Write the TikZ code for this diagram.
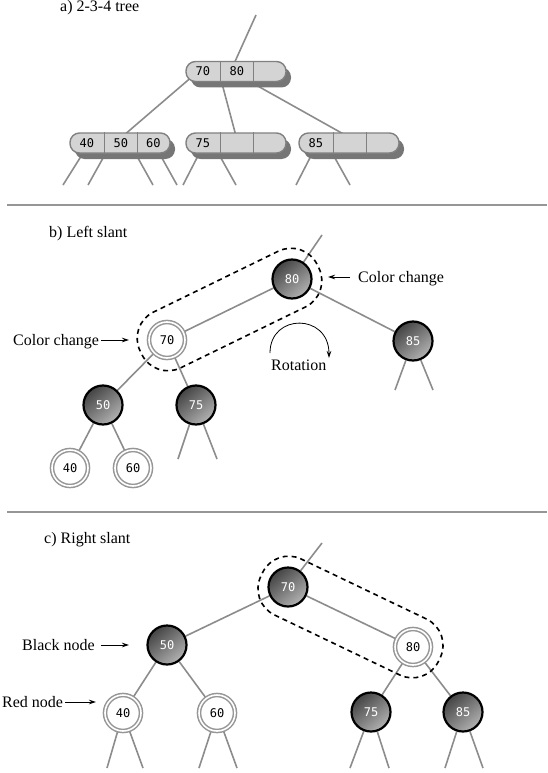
\documentclass[tikz,border=0pt]{standalone}
\usepackage{fontspec}
\setmainfont{Liberation Serif}
\newfontfamily\digitfont{DejaVu Sans Mono}
\usetikzlibrary{backgrounds,shadows,arrows.meta,calc}
\definecolor{edgegray}{RGB}{140,140,140}
\definecolor{boxfill}{RGB}{212,212,212}
\definecolor{boxborder}{RGB}{128,128,128}
\definecolor{shadowgray}{RGB}{118,118,118}
\definecolor{ringgray}{RGB}{150,150,150}
\definecolor{sepgray}{RGB}{150,150,150}
\definecolor{darkfill}{RGB}{68,68,68}
\definecolor{lightfill}{RGB}{178,178,178}
\begin{document}
\begin{tikzpicture}[x=1pt,y=-1pt,
  font=\fontsize{16}{18}\selectfont,
  treeline/.style={draw=edgegray, line width=1.6pt},
  sepline/.style={draw=sepgray, line width=2pt},
  keybox/.style={draw=boxborder, line width=1.4pt, fill=boxfill, rounded corners=9.5pt,
    minimum width=100pt, minimum height=20pt, inner sep=0pt,
    drop shadow={shadow xshift=5pt, shadow yshift=-6pt, fill=shadowgray, opacity=1}},
  boxdiv/.style={draw=boxborder, line width=1.4pt},
  digits/.style={font=\digitfont\fontsize{12}{12}\selectfont, inner sep=0pt},
  blacknode/.style={circle, draw=black, line width=2.2pt, minimum size=39pt, inner sep=0pt,
    top color=darkfill, bottom color=lightfill, shading angle=40, text=white, digits},
  rednode/.style={circle, draw=ringgray, line width=1.5pt, double=white, double distance=1.6pt,
    fill=white, minimum size=36pt, inner sep=0pt, text=black, digits},
  capsule/.style={draw=black, line width=1.6pt, dash pattern=on 5pt off 4pt,
    rounded corners=29pt, minimum width=197pt, minimum height=62pt, inner sep=0pt},
  label/.style={inner sep=0pt, anchor=base west},
  pointer/.style={draw=black, line width=0.8pt, -{Stealth[length=7pt,width=4.5pt]}}
]
\useasboundingbox (0,0) rectangle (547,773);

% ---------------- a) 2-3-4 tree ----------------
\node[label] (atitle) at (60,12) {a) 2-3-4 tree};

\node[keybox] (aroot) at (236,71.5) {};
\node[keybox] (aleft) at (120,143) {};
\node[keybox] (amid) at (236,143) {};
\node[keybox] (aright) at (349,143) {};

\foreach \b in {aroot,aleft,amid,aright}{
  \draw[boxdiv] ($(\b.north west)+(35,0)$) -- ($(\b.south west)+(35,0)$);
  \draw[boxdiv] ($(\b.north west)+(68,0)$) -- ($(\b.south west)+(68,0)$);
}
\node[digits] (ar70) at ($(aroot.west)+(17.5,0)$) {70};
\node[digits] (ar80) at ($(aroot.west)+(51.5,0)$) {80};
\node[digits] (al40) at ($(aleft.west)+(17.5,0)$) {40};
\node[digits] (al50) at ($(aleft.west)+(51.5,0)$) {50};
\node[digits] (al60) at ($(aleft.west)+(84,0)$) {60};
\node[digits] (am75) at ($(amid.west)+(17.5,0)$) {75};
\node[digits] (ar85) at ($(aright.west)+(17.5,0)$) {85};

\coordinate (aupin) at (233,66);   \coordinate (aup) at (256,15);
\coordinate (arL) at (194,75);     \coordinate (alT) at (123,136);
\coordinate (arM) at (220,76);     \coordinate (amT) at (236,136);
\coordinate (arR) at (247,80);     \coordinate (aRT) at (347,136);
\coordinate (al1i) at (85,150)    ; \coordinate (al1) at (63,185);
\coordinate (al2i) at (107.5,150) ; \coordinate (al2) at (88,185);
\coordinate (al3i) at (133.5,150) ; \coordinate (al3) at (153,185);
\coordinate (al4i) at (157.5,150) ; \coordinate (al4) at (177,185);
\coordinate (am1i) at (201,150)   ; \coordinate (am1) at (183,185);
\coordinate (am2i) at (216.5,150) ; \coordinate (am2) at (236,185);
\coordinate (aR1i) at (314,150)   ; \coordinate (aR1) at (296,185);
\coordinate (aR2i) at (330.5,150) ; \coordinate (aR2) at (350,185);
\begin{scope}[on background layer]
  \draw[treeline] (aupin) -- (aup);
  \draw[treeline] (arL) -- (alT);
  \draw[treeline] (arM) -- (amT);
  \draw[treeline] (arR) -- (aRT);
  \draw[treeline] (al1i) -- (al1);
  \draw[treeline] (al2i) -- (al2);
  \draw[treeline] (al3i) -- (al3);
  \draw[treeline] (al4i) -- (al4);
  \draw[treeline] (am1i) -- (am1);
  \draw[treeline] (am2i) -- (am2);
  \draw[treeline] (aR1i) -- (aR1);
  \draw[treeline] (aR2i) -- (aR2);
\end{scope}

\coordinate (sep1a) at (7,205); \coordinate (sep1b) at (547,205);
\draw[sepline] (sep1a) -- (sep1b);

% ---------------- b) Left slant ----------------
\node[label] (btitle) at (49,237) {b) Left slant};

\node[blacknode] (b80) at (292,279) {80};
\node[rednode]   (b70) at (167,340) {70};
\node[blacknode] (b85) at (413,341) {85};
\node[blacknode] (b50) at (103,405) {50};
\node[blacknode] (b75) at (196,405) {75};
\node[rednode]   (b40) at (70,468) {40};
\node[rednode]   (b60) at (133,468) {60};

\coordinate (bup) at (322,235);
\coordinate (b85a) at (395,390); \coordinate (b85b) at (433,390);
\coordinate (b75a) at (178,459); \coordinate (b75b) at (217,459);
\begin{scope}[on background layer]
  \draw[treeline] (b80) -- (bup);
  \draw[treeline] (b80) -- (b70);
  \draw[treeline] (b80) -- (b85);
  \draw[treeline] (b70) -- (b50);
  \draw[treeline] (b70) -- (b75);
  \draw[treeline] (b50) -- (b40);
  \draw[treeline] (b50) -- (b60);
  \draw[treeline] (b85) -- (b85a);
  \draw[treeline] (b85) -- (b85b);
  \draw[treeline] (b75) -- (b75a);
  \draw[treeline] (b75) -- (b75b);
\end{scope}

\node[capsule, rotate=26] (bcap) at ($(b70)!0.5!(b80)$) {};

\node[label] (bcc1) at (358,282) {Color change};
\coordinate (bcc1s) at (350,277); \coordinate (bcc1e) at (328,277);
\draw[pointer] (bcc1s) -- (bcc1e);
\node[label] (bcc2) at (13,345) {Color change};
\coordinate (bcc2s) at (101,340); \coordinate (bcc2e) at (129,340);
\draw[pointer] (bcc2s) -- (bcc2e);

\coordinate (rots) at (270,353); \coordinate (rote) at (329,358);
\draw[pointer] (rots) .. controls (270,313) and (329,313) .. (rote);
\node[label] (rotl) at (271,370) {Rotation};

\coordinate (sep2a) at (7,512); \coordinate (sep2b) at (547,512);
\draw[sepline] (sep2a) -- (sep2b);

% ---------------- c) Right slant ----------------
\node[label] (ctitle) at (44,543) {c) Right slant};

\node[blacknode] (c70) at (288,587) {70};
\node[blacknode] (c50) at (167,645) {50};
\node[rednode]   (c80) at (413,647) {80};
\node[rednode]   (c40) at (123,713) {40};
\node[rednode]   (c60) at (217,713) {60};
\node[blacknode] (c75) at (371,712) {75};
\node[blacknode] (c85) at (463,712) {85};

\coordinate (cup) at (322,543);
\coordinate (c40a) at (107,768); \coordinate (c40b) at (143,768);
\coordinate (c60a) at (199,768); \coordinate (c60b) at (237,768);
\coordinate (c75a) at (350,768); \coordinate (c75b) at (389,768);
\coordinate (c85a) at (445,768); \coordinate (c85b) at (483,768);
\begin{scope}[on background layer]
  \draw[treeline] (c70) -- (cup);
  \draw[treeline] (c70) -- (c50);
  \draw[treeline] (c70) -- (c80);
  \draw[treeline] (c50) -- (c40);
  \draw[treeline] (c50) -- (c60);
  \draw[treeline] (c80) -- (c75);
  \draw[treeline] (c80) -- (c85);
  \draw[treeline] (c40) -- (c40a);
  \draw[treeline] (c40) -- (c40b);
  \draw[treeline] (c60) -- (c60a);
  \draw[treeline] (c60) -- (c60b);
  \draw[treeline] (c75) -- (c75a);
  \draw[treeline] (c75) -- (c75b);
  \draw[treeline] (c85) -- (c85a);
  \draw[treeline] (c85) -- (c85b);
\end{scope}

\node[capsule, rotate=-25.6] (ccap) at ($(c70)!0.5!(c80)$) {};

\node[label] (cblk) at (22,650) {Black node};
\coordinate (cblks) at (101,645); \coordinate (cblke) at (129,645);
\draw[pointer] (cblks) -- (cblke);
\node[label] (cred) at (2,707) {Red node};
\coordinate (creds) at (65,702); \coordinate (crede) at (96,702);
\draw[pointer] (creds) -- (crede);
\end{tikzpicture}
\end{document}
